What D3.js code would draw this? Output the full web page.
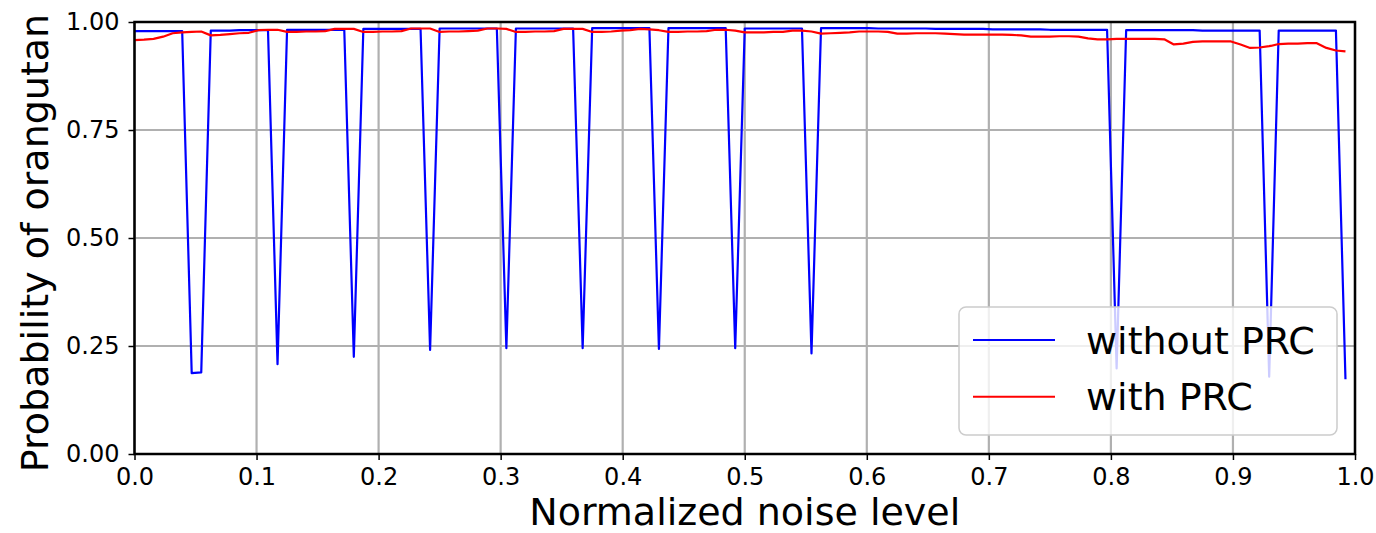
<!DOCTYPE html>
<html>
<head>
<meta charset="utf-8">
<script src="https://cdn.jsdelivr.net/npm/d3@7"></script>
<style>
    html,body{margin:0;padding:0;background:#fff;}
    #chart{width:1376px;height:533px;}
    text{font-family:"DejaVu Sans",sans-serif;fill:#000;}
</style>
</head>
<body>
<div id="chart"></div>
<script>
// data: 128 noise levels (step 1/128) and the two probability series
var sampleCount = 128;
var noiseLevels = d3.range(sampleCount).map(function(i){ return i / sampleCount; });
var withoutPRC = [
    0.979,0.979,0.979,0.979,0.979,0.979,0.187,0.189,
    0.980,0.980,0.980,0.981,0.981,0.981,0.981,0.208,
    0.982,0.982,0.982,0.982,0.982,0.982,0.982,0.225,
    0.984,0.984,0.984,0.984,0.984,0.984,0.984,0.241,
    0.985,0.985,0.985,0.985,0.985,0.985,0.985,0.245,
    0.985,0.985,0.985,0.985,0.985,0.985,0.985,0.245,
    0.986,0.986,0.986,0.986,0.986,0.986,0.986,0.243,
    0.986,0.986,0.986,0.986,0.986,0.986,0.986,0.245,
    0.985,0.985,0.985,0.985,0.985,0.985,0.985,0.233,
    0.986,0.986,0.986,0.986,0.986,0.986,0.985,0.985,
    0.985,0.985,0.985,0.985,0.984,0.984,0.984,0.984,
    0.984,0.984,0.983,0.983,0.983,0.983,0.983,0.983,
    0.982,0.982,0.982,0.982,0.982,0.982,0.982,0.198,
    0.981,0.981,0.981,0.981,0.981,0.981,0.981,0.981,
    0.980,0.980,0.980,0.980,0.980,0.980,0.980,0.179,
    0.980,0.980,0.980,0.980,0.980,0.980,0.980,0.173
];
var withPRC = [
    0.958,0.959,0.961,0.966,0.974,0.976,0.977,0.978,
    0.969,0.970,0.972,0.974,0.975,0.981,0.982,0.982,
    0.977,0.977,0.978,0.978,0.979,0.984,0.984,0.984,
    0.977,0.977,0.978,0.978,0.979,0.985,0.985,0.985,
    0.977,0.978,0.978,0.979,0.980,0.985,0.985,0.984,
    0.977,0.977,0.978,0.978,0.979,0.984,0.984,0.984,
    0.977,0.977,0.978,0.980,0.981,0.984,0.983,0.981,
    0.977,0.977,0.978,0.978,0.979,0.982,0.982,0.980,
    0.976,0.976,0.976,0.977,0.977,0.980,0.980,0.978,
    0.973,0.974,0.975,0.976,0.978,0.978,0.978,0.977,
    0.973,0.973,0.974,0.974,0.974,0.973,0.972,0.971,
    0.971,0.971,0.971,0.971,0.970,0.969,0.966,0.966,
    0.966,0.967,0.967,0.966,0.962,0.960,0.960,0.961,
    0.961,0.961,0.961,0.961,0.960,0.948,0.950,0.954,
    0.955,0.955,0.955,0.955,0.948,0.940,0.941,0.944,
    0.949,0.950,0.950,0.951,0.951,0.940,0.934,0.932
];
var xTicks = [0,0.1,0.2,0.3,0.4,0.5,0.6,0.7,0.8,0.9,1.0];
var yTicks = [0,0.25,0.5,0.75,1.0];
var seriesNames = ["without PRC","with PRC"];
var seriesColors = ["#0000ff","#ff0000"];

function drawProbChart(divName){
    //1.svg size
    var svgwidth = 1376, svgheight = 533;
    var _svg = d3.select("#"+divName)
        .append("svg")
        .attr("width",svgwidth)
        .attr("height",svgheight);
    //2.plot area
    var _margin = {top:22,left:134.5,right:21,bottom:79};
    var w = svgwidth-_margin.left-_margin.right;
    var h = svgheight-_margin.top-_margin.bottom;
    var _g = _svg.append("g")
        .attr("transform","translate("+_margin.left+","+_margin.top+")");
    //3.scales
    var xscale = d3.scaleLinear().domain([0,1]).range([0,w]);
    var yscale = d3.scaleLinear().domain([0,1]).range([h,0]);
    //4.grid lines
    var grid = _g.append("g").attr("class","grid");
    grid.selectAll("line.gx")
        .data(xTicks)
        .enter()
        .append("line")
        .attr("x1",function(d){ return xscale(d); })
        .attr("x2",function(d){ return xscale(d); })
        .attr("y1",0)
        .attr("y2",h)
        .attr("stroke","#b0b0b0")
        .attr("stroke-width",2.2);
    grid.selectAll("line.gy")
        .data(yTicks)
        .enter()
        .append("line")
        .attr("x1",0)
        .attr("x2",w)
        .attr("y1",function(d){ return yscale(d); })
        .attr("y2",function(d){ return yscale(d); })
        .attr("stroke","#b0b0b0")
        .attr("stroke-width",2.2);
    //5.lines (clipped to plot area)
    _svg.append("defs").append("clipPath")
        .attr("id","plotClip")
        .append("rect")
        .attr("x",0).attr("y",0)
        .attr("width",w).attr("height",h);
    var _line = d3.line()
        .x(function(d){ return xscale(d[0]); })
        .y(function(d){ return yscale(d[1]); });
    var allSeries = [withoutPRC,withPRC];
    _g.append("g")
        .attr("clip-path","url(#plotClip)")
        .selectAll("path")
        .data(allSeries)
        .enter()
        .append("path")
        .attr("d",function(d){ return _line(d3.zip(noiseLevels,d)); })
        .attr("fill","none")
        .attr("stroke",function(d,i){ return seriesColors[i]; })
        .attr("stroke-width",2.2)
        .attr("stroke-linejoin","round");
    //6.axes
    var xaxis = d3.axisBottom(xscale)
        .tickValues(xTicks)
        .tickFormat(d3.format(".1f"))
        .tickSize(6)
        .tickPadding(8);
    var yaxis = d3.axisLeft(yscale)
        .tickValues(yTicks)
        .tickFormat(d3.format(".2f"))
        .tickSize(6)
        .tickPadding(9);
    var gx = _g.append("g")
        .attr("transform","translate(0,"+h+")")
        .call(xaxis);
    var gy = _g.append("g").call(yaxis);
    [gx,gy].forEach(function(ax){
        ax.select(".domain").remove();
        ax.selectAll("line").attr("stroke","#000").attr("stroke-width",1.5);
        ax.selectAll("text")
            .attr("font-size","24px")
            .attr("font-family","DejaVu Sans")
            .attr("fill","#000");
    });
    //7.frame
    _g.append("rect")
        .attr("x",0).attr("y",0)
        .attr("width",w).attr("height",h)
        .attr("fill","none")
        .attr("stroke","#000")
        .attr("stroke-width",2.5);
    //8.axis titles
    _g.append("text")
        .attr("x",w/2)
        .attr("y",h+71)
        .attr("text-anchor","middle")
        .attr("font-size","38px")
        .text("Normalized noise level");
    _svg.append("text")
        .attr("transform","translate(48,"+(_margin.top+h/2+5)+") rotate(-90)")
        .attr("text-anchor","middle")
        .attr("font-size","38px")
        .text("Probability of orangutan");
    //9.legend
    var lg = _svg.append("g").attr("class","legend");
    lg.append("rect")
        .attr("x",959).attr("y",307)
        .attr("width",378).attr("height",128)
        .attr("rx",7)
        .attr("fill","#fff")
        .attr("fill-opacity",0.8)
        .attr("stroke","#cccccc")
        .attr("stroke-width",1.5);
    var items = lg.selectAll("g.item")
        .data(seriesNames)
        .enter()
        .append("g")
        .attr("transform",function(d,i){ return "translate(0,"+(340+i*56.7)+")"; });
    items.append("line")
        .attr("x1",973).attr("x2",1055)
        .attr("y1",0).attr("y2",0)
        .attr("stroke",function(d,i){ return seriesColors[i]; })
        .attr("stroke-width",2);
    items.append("text")
        .attr("x",1086)
        .attr("y",13.5)
        .attr("font-size","38px")
        .text(function(d){ return d; });
}
drawProbChart("chart");
</script>
</body>
</html>
